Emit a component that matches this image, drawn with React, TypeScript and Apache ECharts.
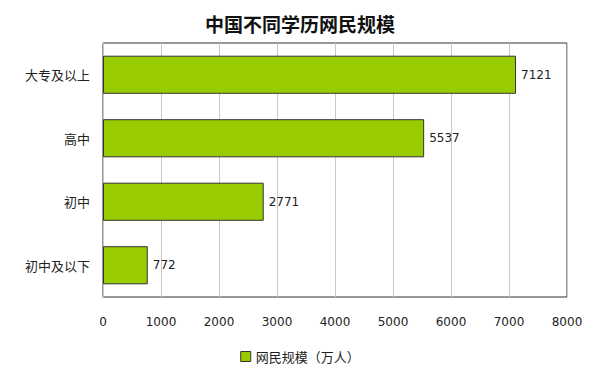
import React, { useEffect, useRef } from "react";
import * as echarts from "echarts";

const categories = ["大专及以上", "高中", "初中", "初中及以下"];
const values = [7121, 5537, 2771, 772];
const seriesName = "网民规模（万人）";
const titleText = "中国不同学历网民规模";

export default function App() {
  const ref = useRef<HTMLDivElement>(null);
  useEffect(() => {
    if (!ref.current) return;
    const chart = echarts.init(ref.current, null, { renderer: "svg" });
    chart.setOption({
      animation: false,
      backgroundColor: "#ffffff",
      title: {
        text: titleText,
        left: "center",
        top: 9,
        textStyle: { fontSize: 19, fontWeight: "bold", color: "#111", fontFamily: "Noto Sans CJK SC" },
      },
      grid: { left: 103, right: 33, top: 43, bottom: 83, show: true, borderColor: "#333", borderWidth: 1 },
      legend: {
        bottom: 12,
        left: "center",
        itemWidth: 10,
        itemHeight: 10,
        itemGap: 4,
        textStyle: { fontSize: 13, color: "#222", fontFamily: "Noto Sans CJK SC" },
        data: [{ name: seriesName, icon: "rect", itemStyle: { borderColor: "#333", borderWidth: 1 } }],
      },
      xAxis: {
        type: "value",
        min: 0,
        max: 8000,
        interval: 1000,
        axisLine: { show: false },
        axisTick: { show: false },
        splitLine: { show: true, lineStyle: { color: "#c8c8c8" } },
        axisLabel: {
          margin: 19,
          fontSize: 12,
          color: "#222",
          fontFamily: "DejaVu Sans",
          formatter: (v: number) => String(v),
        },
      },
      yAxis: {
        type: "category",
        data: categories,
        inverse: true,
        axisLine: { show: false },
        axisTick: { show: false },
        axisLabel: { margin: 13, fontSize: 13, color: "#222", fontFamily: "Noto Sans CJK SC" },
      },
      series: [
        {
          name: seriesName,
          type: "bar",
          data: values,
          barWidth: "60%",
          itemStyle: { color: "#99cc00", borderColor: "#333", borderWidth: 1 },
          label: { show: true, position: "right", distance: 5, fontSize: 12, color: "#222", fontFamily: "DejaVu Sans" },
        },
      ],
    });
    return () => chart.dispose();
  }, []);
  return <div ref={ref} style={{ width: 600, height: 380, position: "absolute", left: 0, top: 0 }} />;
}
